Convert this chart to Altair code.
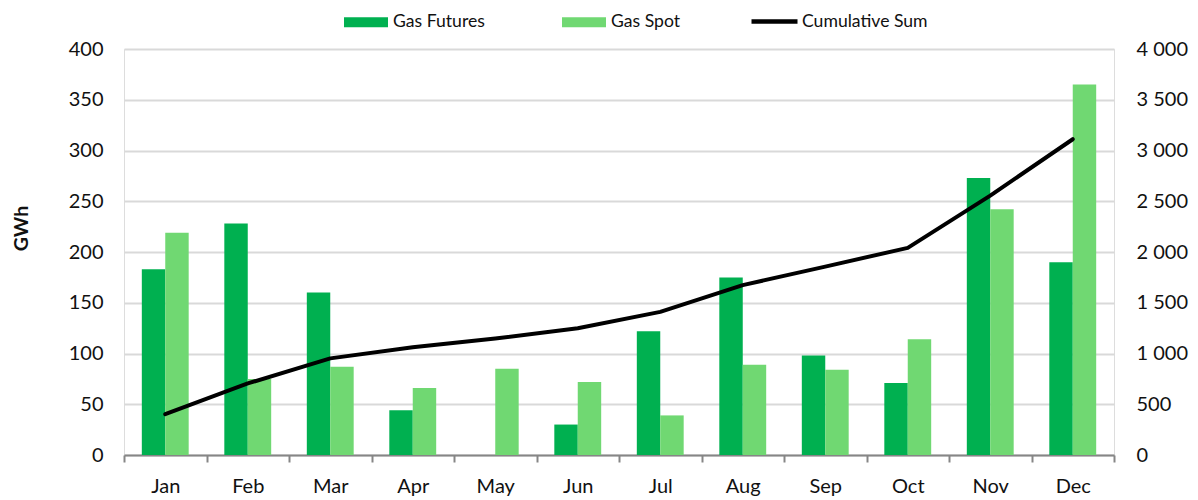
import altair as alt
import pandas as pd

months = ["Jan", "Feb", "Mar", "Apr", "May", "Jun", "Jul", "Aug", "Sep", "Oct", "Nov", "Dec"]
gas_futures = [183, 228, 160, 44, 0, 30, 122, 175, 98, 71, 273, 190]
gas_spot = [219, 75, 87, 66, 85, 72, 39, 89, 84, 114, 242, 365]
cumulative = [402, 705, 952, 1062, 1147, 1249, 1410, 1674, 1856, 2041, 2556, 3111]
series_names = ["Gas Futures", "Gas Spot"]
line_name = "Cumulative Sum"
left_ticks = [0, 50, 100, 150, 200, 250, 300, 350, 400]
right_ticks = [0, 500, 1000, 1500, 2000, 2500, 3000, 3500, 4000]

bars = pd.DataFrame(
    [{"month": m, "series": series_names[0], "value": v} for m, v in zip(months, gas_futures)]
    + [{"month": m, "series": series_names[1], "value": v} for m, v in zip(months, gas_spot)]
)
line = pd.DataFrame({"month": months, "cum": cumulative, "s": [line_name] * len(months)})

FONT = "Lato"
LABEL_SIZE = 20
LABEL_COLOR = "#111111"

x_enc = alt.X(
    "month:N",
    sort=months,
    title=None,
    scale=alt.Scale(paddingInner=0, paddingOuter=0),
    axis=alt.Axis(
        labelAngle=0,
        labelFont=FONT,
        labelFontSize=LABEL_SIZE,
        labelColor=LABEL_COLOR,
        labelPadding=14,
        tickBand="extent",
        tickSize=7,
        tickColor="#868686",
        tickWidth=2,
        domainColor="#868686",
        domainWidth=2,
        grid=False,
    ),
)

bar_layer = alt.Chart(bars).mark_bar().encode(
    x=x_enc,
    xOffset=alt.XOffset("series:N", sort=series_names, scale=alt.Scale(paddingInner=0, paddingOuter=0.76)),
    y=alt.Y(
        "value:Q",
        scale=alt.Scale(domain=[0, 400], nice=False),
        axis=alt.Axis(
            values=left_ticks,
            title="GWh",
            titleFont=FONT,
            titleFontWeight="bold",
            titleFontSize=19.5,
            titleColor=LABEL_COLOR,
            titleAngle=270,
            titleAlign="center",
            titleBaseline="middle",
            titleX=-103,
            titleY=179,
            labelFont=FONT,
            labelFontSize=LABEL_SIZE,
            labelColor=LABEL_COLOR,
            labelPadding=21,
            ticks=False,
            domain=False,
            grid=True,
            gridColor="#D9D9D9",
            gridWidth=2,
        ),
    ),
    color=alt.Color(
        "series:N",
        scale=alt.Scale(domain=series_names, range=["#00B050", "#70D872"]),
        legend=alt.Legend(
            orient="none",
            legendX=220,
            legendY=-49,
            direction="horizontal",
            title=None,
            symbolType="M-1,-0.23H1V0.23H-1Z",
            symbolSize=1936,
            symbolStrokeWidth=0,
            labelFont=FONT,
            labelFontSize=17.6,
            labelColor=LABEL_COLOR,
            labelOffset=5,
            columnPadding=77,
            padding=0,
        ),
    ),
)

line_layer = alt.Chart(line).mark_line(color="black", strokeWidth=4, strokeCap="round", strokeJoin="round").encode(
    x=alt.X("month:N", sort=months),
    y=alt.Y(
        "cum:Q",
        scale=alt.Scale(domain=[0, 4000], nice=False),
        axis=alt.Axis(
            orient="right",
            values=right_ticks,
            title=None,
            labelExpr="replace(format(datum.value, ','), ',', ' ')",
            labelFont=FONT,
            labelFontSize=LABEL_SIZE,
            labelColor=LABEL_COLOR,
            labelPadding=22,
            ticks=False,
            domain=False,
            grid=False,
        ),
    ),
    stroke=alt.Stroke(
        "s:N",
        scale=alt.Scale(domain=[line_name], range=["black"]),
        legend=alt.Legend(
            orient="none",
            legendX=625,
            legendY=-53,
            direction="horizontal",
            title=None,
            symbolType="stroke",
            symbolSize=2116,
            symbolStrokeWidth=4.5,
            labelFont=FONT,
            labelFontSize=17.6,
            labelColor=LABEL_COLOR,
            labelOffset=2,
            padding=0,
        ),
    ),
)

chart = (
    alt.layer(bar_layer, line_layer)
    .resolve_scale(y="independent", color="independent", stroke="independent")
    .properties(
        width=990,
        height=406,
        autosize=alt.AutoSizeParams(type="none"),
        padding={"left": 116, "top": 41, "right": 76, "bottom": 44},
    )
    .configure_view(stroke=None)
    .configure(background="white")
)

chart.save("out.html", embed_options={"renderer": "svg", "actions": False})
